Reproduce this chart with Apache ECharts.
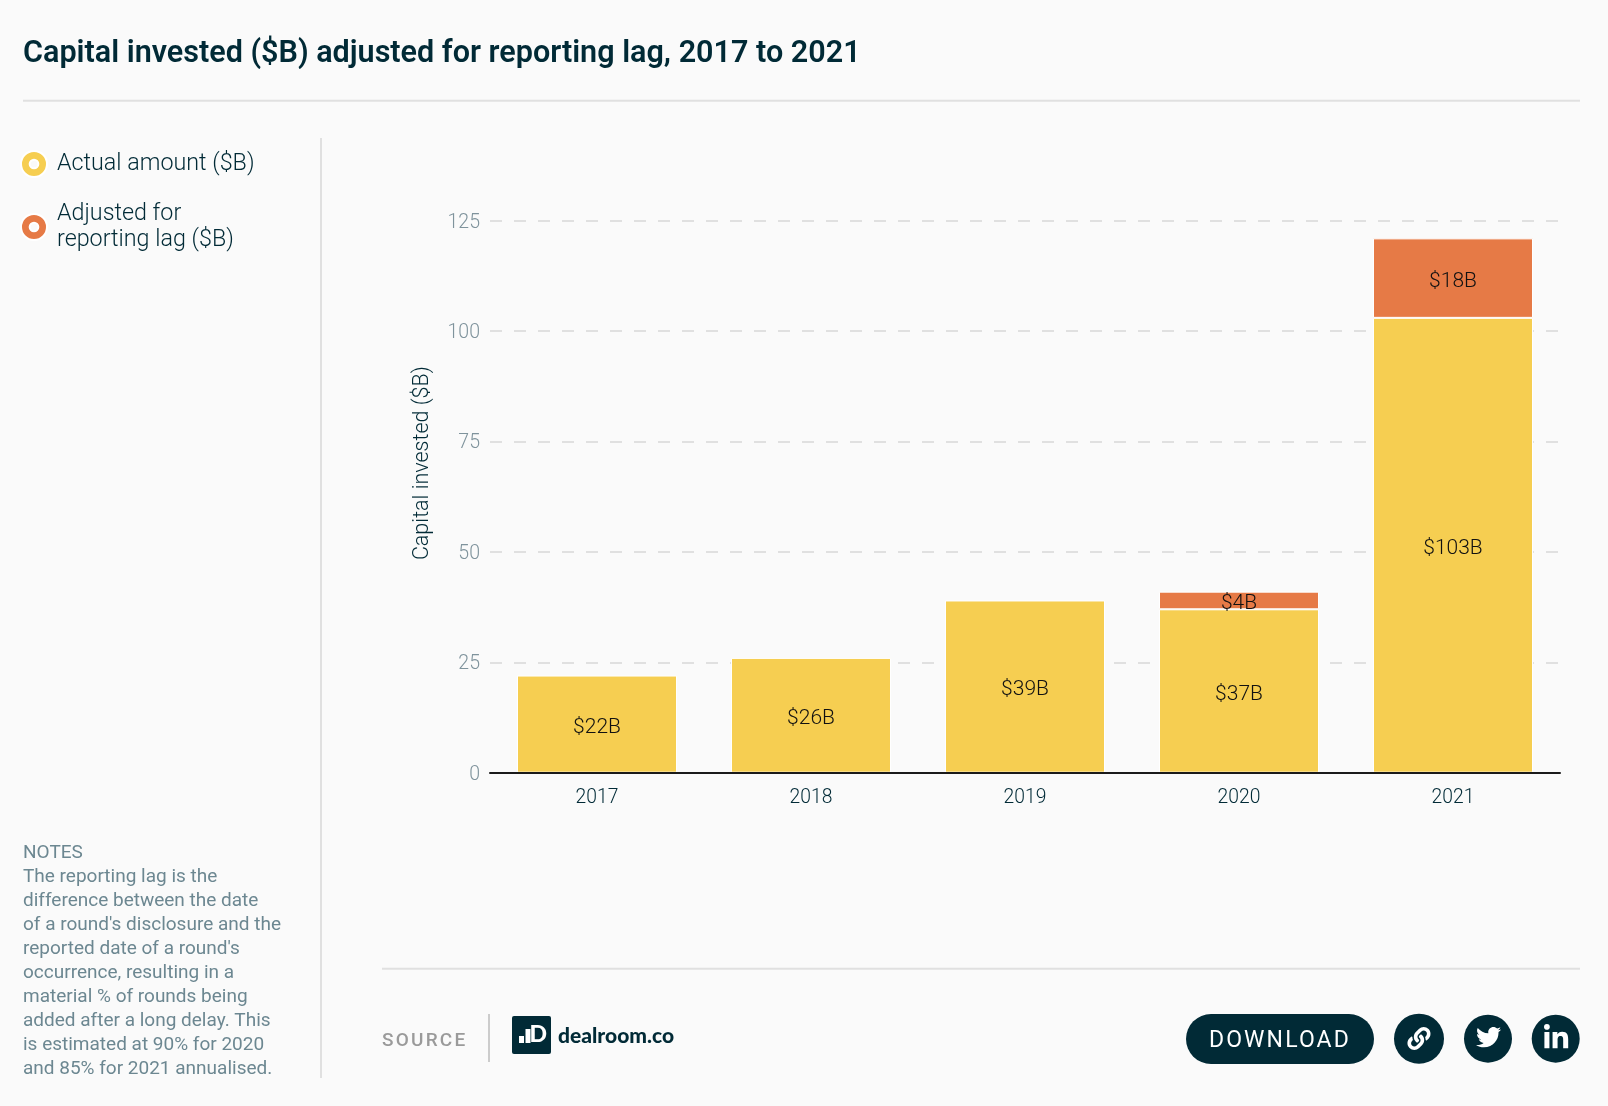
<!DOCTYPE html>
<html><head><meta charset="utf-8">
<style>
html,body{margin:0;padding:0;background:#fafafa;width:1608px;height:1106px;overflow:hidden}
#c{position:absolute;left:0;top:0;width:1608px;height:1106px}
.t{position:absolute;font-family:Roboto,sans-serif;white-space:nowrap;line-height:1;pointer-events:none}
</style>
<script src="https://cdn.jsdelivr.net/npm/echarts@6/dist/echarts.min.js"></script>
</head><body>
<div id="c"></div>
<div class="t" style="left:382px;top:1030px;font-size:19px;letter-spacing:2.2px;color:#9a9a9a;font-weight:500">SOURCE</div>
<div class="t" style="left:1209px;top:1028px;font-size:23px;letter-spacing:2.1px;color:#fff;font-weight:400">DOWNLOAD</div>
<script>
const titleText = 'Capital invested ($B) adjusted for reporting lag, 2017 to 2021';
const years = ['2017','2018','2019','2020','2021'];
const actualName = 'Actual amount ($B)';
const adjustedName = 'Adjusted for\nreporting lag ($B)';
const actual = [22,26,39,37,103];
const adjusted = [null,null,null,4,18];
const yTicks = {min:0,max:125,interval:25};
const axisName = 'Capital invested ($B)';
const notes = ['NOTES','The reporting lag is the','difference between the date',"of a round's disclosure and the","reported date of a round's",'occurrence, resulting in a','material % of rounds being','added after a long delay. This','is estimated at 90% for 2020','and 85% for 2021 annualised.'];

const INK='#012a36', YEL='#f6ce51', ORA='#e67a46', RULE='#e0e0e0', FONT='Roboto, sans-serif';
const twitter='M459.37 151.716c.325 4.548.325 9.097.325 13.645 0 138.72-105.583 298.558-298.558 298.558-59.452 0-114.68-17.219-161.137-47.106 8.447.974 16.568 1.299 25.34 1.299 49.055 0 94.213-16.568 130.274-44.832-46.132-.975-84.792-31.188-98.112-72.772 6.498.974 12.995 1.624 19.818 1.624 9.421 0 18.843-1.3 27.614-3.573-48.081-9.747-84.143-51.98-84.143-102.985v-1.299c13.969 7.797 30.214 12.67 47.431 13.319-28.264-18.843-46.781-51.005-46.781-87.391 0-19.492 5.197-37.36 14.294-52.954 51.655 63.675 129.3 105.258 216.365 109.807-1.624-7.797-2.599-15.918-2.599-24.04 0-57.828 46.782-104.934 104.934-104.934 30.213 0 57.502 12.67 76.67 33.137 23.715-4.548 46.456-13.32 66.599-25.34-7.798 24.366-24.366 44.833-46.132 57.827 21.117-2.273 41.584-8.122 60.426-16.243-14.292 20.791-32.161 39.308-52.628 54.253z';
const linkedin='M100.28 448H7.4V148.9h92.88zM53.79 108.1C24.09 108.1 0 83.5 0 53.8a53.79 53.79 0 0 1 107.58 0c0 29.7-24.1 54.3-53.79 54.3zM447.9 448h-92.68V302.4c0-34.7-.7-79.2-48.29-79.2-48.29 0-55.69 37.7-55.69 76.7V448h-92.78V148.9h89.08v40.8h1.3c12.4-23.5 42.69-48.3 87.88-48.3 94 0 111.28 61.9 111.28 142.3V448z';
const link='M326.612 185.391c59.747 59.809 58.927 155.698.36 214.59-.11.12-.24.25-.36.37l-67.2 67.2c-59.27 59.27-155.699 59.262-214.96 0-59.27-59.26-59.27-155.7 0-214.96l37.106-37.106c9.84-9.84 26.786-3.3 27.294 10.606.648 17.722 3.826 35.527 9.69 52.721 1.986 5.822.567 12.262-3.783 16.612l-13.087 13.087c-28.026 28.026-28.905 73.66-1.155 101.96 28.024 28.579 74.086 28.749 102.325.51l67.2-67.19c28.191-28.191 28.073-73.757 0-101.83-3.701-3.694-7.429-6.564-10.341-8.569a16.037 16.037 0 0 1-6.947-12.606c-.396-10.567 3.348-21.456 11.698-29.806l21.054-21.055c5.521-5.521 14.182-6.199 20.584-1.731a152.482 152.482 0 0 1 20.522 17.197zM467.547 44.449c-59.261-59.262-155.69-59.27-214.96 0l-67.2 67.2c-.12.12-.25.25-.36.37-58.566 58.892-59.387 154.781.36 214.59a152.454 152.454 0 0 0 20.521 17.196c6.402 4.468 15.064 3.789 20.584-1.731l21.054-21.055c8.35-8.35 12.094-19.239 11.698-29.806a16.037 16.037 0 0 0-6.947-12.606c-2.912-2.005-6.64-4.875-10.341-8.569-28.073-28.073-28.191-73.639 0-101.83l67.2-67.19c28.239-28.239 74.3-28.069 102.325.51 27.75 28.3 26.872 73.934-1.155 101.96l-13.087 13.087c-4.35 4.35-5.769 10.79-3.783 16.612 5.864 17.194 9.042 34.999 9.69 52.721.509 13.906 17.454 20.446 27.294 10.606l37.106-37.106c59.271-59.259 59.271-155.699.001-214.959z';
echarts.graphic.registerShape('iconLink',echarts.graphic.extendPath(link));
echarts.graphic.registerShape('iconTwitter',echarts.graphic.extendPath(twitter));
echarts.graphic.registerShape('iconLinkedin',echarts.graphic.extendPath(linkedin));
const line=(x1,y1,x2,y2,c,w)=>({type:'line',silent:true,shape:{x1,y1,x2,y2},style:{stroke:c,lineWidth:w}});
const circle=(cx,cy,r)=>({type:'circle',silent:true,shape:{cx,cy,r},style:{fill:INK}});
const icon=(t,x,y,s)=>({type:t,silent:true,z:10,x,y,scaleX:s,scaleY:s,style:{fill:'#fff'}});
const valueLabel={show:true,position:'inside',offset:[0,3.5],color:'#111',fontFamily:FONT,fontSize:21,fontWeight:300,formatter:p=>'$'+p.value+'B'};

const chart=echarts.init(document.getElementById('c'));
chart.setOption({
  animation:false,
  backgroundColor:'#fafafa',
  title:{text:titleText,left:23,top:38.5,padding:0,textStyle:{fontFamily:FONT,fontSize:30.55,fontWeight:600,color:INK}},
  legend:{orient:'vertical',left:20,top:150,padding:0,itemWidth:26,itemHeight:26,itemGap:23,selectedMode:false,
    icon:'path://M12 0A12 12 0 1 1 12 24A12 12 0 1 1 12 0ZM12 8A4 4 0 1 0 12 16A4 4 0 1 0 12 8Z',
    textStyle:{fontFamily:FONT,fontSize:23.3,fontWeight:300,color:INK,lineHeight:26,padding:[0,0,0,5]},
    data:[actualName,adjustedName]},
  grid:{left:490,width:1070,top:220.7,height:552},
  xAxis:{type:'category',data:years,axisTick:{show:false},
    axisLine:{lineStyle:{color:'#1a1a1a',width:2}},
    axisLabel:{color:INK,fontFamily:FONT,fontSize:19.3,fontWeight:300,margin:16},z:5},
  yAxis:{type:'value',min:yTicks.min,max:yTicks.max,interval:yTicks.interval,
    name:axisName,nameLocation:'middle',nameGap:56,nameRotate:90,
    nameTextStyle:{color:INK,fontFamily:FONT,fontSize:21.5,fontWeight:300,padding:[0,0,0,67]},
    axisLine:{show:false},axisTick:{show:false},
    axisLabel:{color:'#7f939c',fontFamily:FONT,fontSize:19.5,fontWeight:300,margin:10,verticalAlign:'top',lineHeight:4},
    splitLine:{show:true,lineStyle:{color:RULE,width:2,type:[12,12]}}},
  series:[
    {name:actualName,type:'bar',stack:'a',barWidth:160,data:actual,itemStyle:{color:YEL,borderColor:'#fff',borderWidth:1},label:valueLabel},
    {name:adjustedName,type:'bar',stack:'a',barWidth:160,data:adjusted,itemStyle:{color:ORA,borderColor:'#fff',borderWidth:1},label:valueLabel}
  ],
  graphic:[
    line(23,100.7,1580,100.7,RULE,2),
    line(321,138,321,1078,RULE,2),
    line(382,968.7,1580,968.7,RULE,2),
    line(489,1014,489,1062,'#ccc',2),
    {type:'text',silent:true,style:{x:23,y:841,text:notes.join('\n'),fill:'#6c8791',fontFamily:FONT,fontSize:19,fontWeight:400,lineHeight:24,textVerticalAlign:'top'}},
    {type:'rect',silent:true,shape:{x:512,y:1016,width:39,height:38,r:2},style:{fill:INK}},
    {type:'rect',silent:true,shape:{x:519,y:1036,width:5,height:7},style:{fill:'#fff'}},
    {type:'rect',silent:true,shape:{x:525.5,y:1029,width:5,height:14},style:{fill:'#fff'}},
    {type:'text',silent:true,style:{x:529.5,y:1023.5,text:'D',fill:'#fff',fontFamily:'Lato',fontSize:23,fontWeight:900,textVerticalAlign:'top'}},
    {type:'text',silent:true,style:{x:558,y:1026,text:'dealroom.co',fill:INK,fontFamily:'Lato',fontSize:21,fontWeight:900,textVerticalAlign:'top'}},
    {type:'rect',silent:true,shape:{x:1186,y:1014,width:188,height:50,r:25},style:{fill:INK}},
    circle(1419,1038.7,25),circle(1488,1038.7,24),circle(1555.7,1038.7,24),
    icon('iconLink',1407.5,1027,0.045),icon('iconTwitter',1476,1024.6,0.049),icon('iconLinkedin',1544,1024,0.054)
  ]
});
</script></body></html>
